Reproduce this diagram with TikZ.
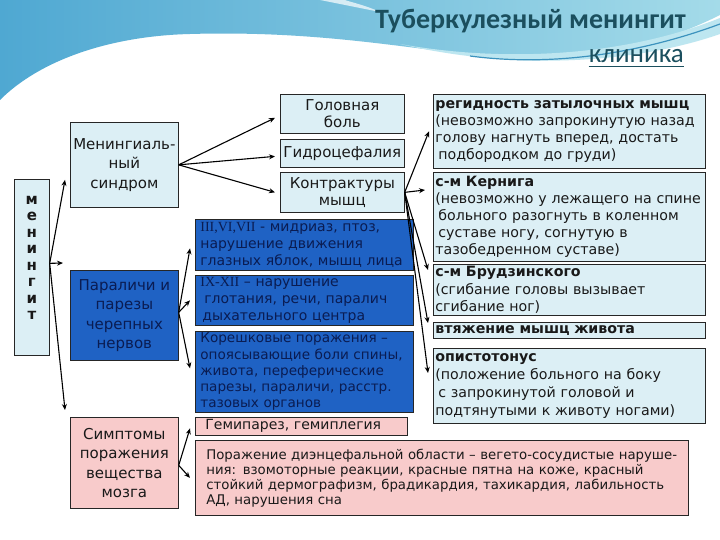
\documentclass[tikz,border=0pt]{standalone}
\usepackage{fontspec}
\setmainfont{DejaVu Sans}
\newfontfamily\titlefont{Carlito}
\newfontfamily\numfont{Liberation Serif}
\usetikzlibrary{arrows.meta}
\definecolor{lightbox}{HTML}{DCEFF5}
\definecolor{bluebox}{HTML}{1F62C4}
\definecolor{navytext}{HTML}{0A1C52}
\definecolor{pinkbox}{HTML}{F8CBCB}
\definecolor{titlecol}{HTML}{1B4F5E}
\definecolor{waveA}{HTML}{4FA8D2}
\definecolor{waveB}{HTML}{A4DBE9}
\definecolor{waveC}{HTML}{BDE6F0}
\definecolor{waveD}{HTML}{3C93BE}
\newcommand\fLeft{\fontsize{15}{19.5}\selectfont}
\newcommand\fMid{\fontsize{15}{17}\selectfont}
\newcommand\fBlue{\fontsize{14}{16.8}\selectfont}
\newcommand\fRight{\fontsize{14.2}{17.2}\selectfont}
\newcommand\fDien{\fontsize{13.3}{15}\selectfont}
\begin{document}
\begin{tikzpicture}[x=1pt,y=-1pt,
  box/.style={draw=black!85, line width=0.7pt, anchor=north west, inner sep=2pt},
  lbox/.style={box, fill=lightbox, text=black!90},
  bbox/.style={box, fill=bluebox, text=navytext},
  pbox/.style={box, fill=pinkbox, text=black!90},
  arr/.style={-{Stealth[length=6pt,width=5pt]}, line width=1.1pt, black}]
\useasboundingbox (0,0) rectangle (720,540);
\fill[white] (0,0) rectangle (720,540);
% background wave
\shade[left color=waveA, right color=waveB] (0,0) -- (720,0) -- (720,15)
  .. controls (650,50) and (580,62) .. (510,58)
  .. controls (420,52) and (330,30) .. (190,34)
  .. controls (110,36) and (40,60) .. (0,100) -- cycle;
\fill[waveC] (400,44) .. controls (500,62) and (620,58) .. (720,18) -- (720,34)
  .. controls (640,62) and (520,72) .. (400,44) -- cycle;
\draw[waveD, line width=1.2pt] (470,56) .. controls (560,68) and (650,50) .. (720,24);
\fill[white, opacity=0.7] (320,0) .. controls (340,4) and (360,8) .. (380,12) .. controls (365,5) and (350,2) .. (345,0) -- cycle;
% title
\node[anchor=base east, inner sep=0pt, text=titlecol, font=\titlefont\bfseries\fontsize{28}{28}\selectfont] (title) at (686,29) {Туберкулезный менингит};
\node[anchor=base east, inner sep=0pt, text=titlecol, font=\titlefont\fontsize{27}{27}\selectfont] (klin) at (684,63) {клиника};
\draw[titlecol, line width=1.3pt] ([yshift=-3.5pt]klin.base west) -- ([yshift=-3.5pt]klin.base east);
% left column
\node[lbox, minimum width=35, minimum height=176, font=\bfseries\fontsize{15}{16.5}\selectfont, align=center] (men) at (14,179) {м\\е\\н\\и\\н\\г\\и\\т\\[2pt]};
\node[lbox, minimum width=108, minimum height=85, font=\fLeft, align=center] (mening) at (70,122) {Менингиаль-\\ный\\синдром};
\node[bbox, minimum width=108, minimum height=90, font=\fLeft, align=center] (paral) at (70,270) {Параличи и\\парезы\\черепных\\нервов};
\node[pbox, minimum width=108, minimum height=91, font=\fLeft, align=center] (sympt) at (70,417) {Симптомы\\поражения\\вещества\\мозга};
% middle column
\node[lbox, minimum width=124, minimum height=39, font=\fMid, align=center] (head) at (280,94) {Головная\\боль};
\node[lbox, minimum width=124, minimum height=28, font=\fMid, align=center] (hydro) at (280,139) {Гидроцефалия};
\node[lbox, minimum width=124, minimum height=40, font=\fMid, align=center] (contr) at (280,172) {Контрактуры\\мышц};
\node[bbox, text width=208, minimum height=51, inner xsep=5pt, font=\fBlue, align=left] (b1) at (195,219) {{\numfont III,VI,VII} - мидриаз, птоз,\\нарушение движения\\глазных яблок, мышц лица};
\node[bbox, text width=208, minimum height=50, inner xsep=5pt, font=\fBlue, align=left] (b2) at (195,275) {{\numfont IX-XII} – нарушение\\\hspace*{4pt}глотания, речи, паралич\\\hspace*{2pt}дыхательного центра};
\node[bbox, text width=208, minimum height=81, inner xsep=5pt, inner ysep=0pt, font=\fontsize{13.6}{16.2}\selectfont, align=left] (b3) at (195,331) {Корешковые поражения –\\опоясывающие боли спины,\\живота, переферические\\парезы, параличи, расстр.\\тазовых органов};
\node[pbox, text width=204, minimum height=18, inner xsep=4pt, inner ysep=0pt, font=\fBlue, align=left] (hemi) at (195,417) {\hspace*{6pt}Гемипарез, гемиплегия};
\node[pbox, text width=471, minimum height=75, inner xsep=11pt, font=\fDien, align=left] (dien) at (195,440) {Поражение диэнцефальной области – вегето-сосудистые наруше-\\ния: взомоторные реакции, красные пятна на коже, красный\\стойкий дермографизм, брадикардия, тахикардия, лабильность\\АД, нарушения сна};
% right column
\node[lbox, text width=268, minimum height=74, font=\fRight, align=left] (regid) at (433,94) {\textbf{регидность затылочных мышц}\\(невозможно запрокинутую назад\\голову нагнуть вперед, достать\\\hspace*{3pt}подбородком до груди)};
\node[lbox, text width=268, minimum height=89, font=\fRight, align=left] (kern) at (433,172) {\textbf{с-м Кернига}\\(невозможно у лежащего на спине\\\hspace*{3pt}больного разогнуть в коленном\\\hspace*{3pt}суставе ногу, согнутую в\\тазобедренном суставе)};
\node[lbox, text width=268, minimum height=51, font=\fRight, align=left] (brud) at (433,264) {\textbf{с-м Брудзинского}\\(сгибание головы вызывает\\сгибание ног)};
\node[lbox, text width=268, minimum height=16, inner ysep=0pt, font=\fRight, align=left] (vt) at (433,322) {\textbf{втяжение мышц живота}};
\node[lbox, text width=268, minimum height=75, font=\fontsize{14.2}{17.8}\selectfont, align=left] (op) at (433,348) {\textbf{опистотонус}\\(положение больного на боку\\\hspace*{3pt}с запрокинутой головой и\\подтянутыми к животу ногами)};
% connectors
\draw[arr] ([yshift=4pt]men.east) -- ([shift={(-5pt,-15pt)}]mening.west);
\draw[arr] ([yshift=4pt]men.east) -- ([shift={(-7pt,7pt)}]paral.north west);
\draw[arr] ([yshift=4pt]men.east) -- ([shift={(-5pt,7pt)}]sympt.north west);
\draw[arr] (mening.east) -- ([shift={(-5pt,-4pt)}]head.west);
\draw[arr] (mening.east) -- ([shift={(-5pt,-3pt)}]hydro.west);
\draw[arr] (mening.east) -- ([xshift=-5pt]contr.west);
\draw[arr] (contr.east) -- ([xshift=-4pt]regid.west);
\draw[arr] (contr.east) -- ([shift={(-8pt,-18pt)}]kern.north west);
\draw[arr] (contr.east) -- ([shift={(-5pt,-6pt)}]brud.north west);
\draw[arr] (contr.east) -- ([shift={(-5pt,-1pt)}]vt.north west);
\draw[arr] (contr.east) -- ([shift={(-5pt,-25pt)}]op.north west);
\draw[arr] ([yshift=3pt]paral.east) -- ([shift={(-5pt,-3.5pt)}]b1.west);
\draw[arr] ([yshift=3pt]paral.east) -- ([xshift=-5pt]b2.west);
\draw[arr] ([yshift=3pt]paral.east) -- ([shift={(-5pt,3.5pt)}]b3.west);
\draw[arr] ([yshift=-2.5pt]sympt.east) -- ([shift={(-5pt,-2pt)}]hemi.west);
\draw[arr] ([yshift=-2.5pt]sympt.east) -- ([xshift=-5pt]dien.west);
\end{tikzpicture}
\end{document}
